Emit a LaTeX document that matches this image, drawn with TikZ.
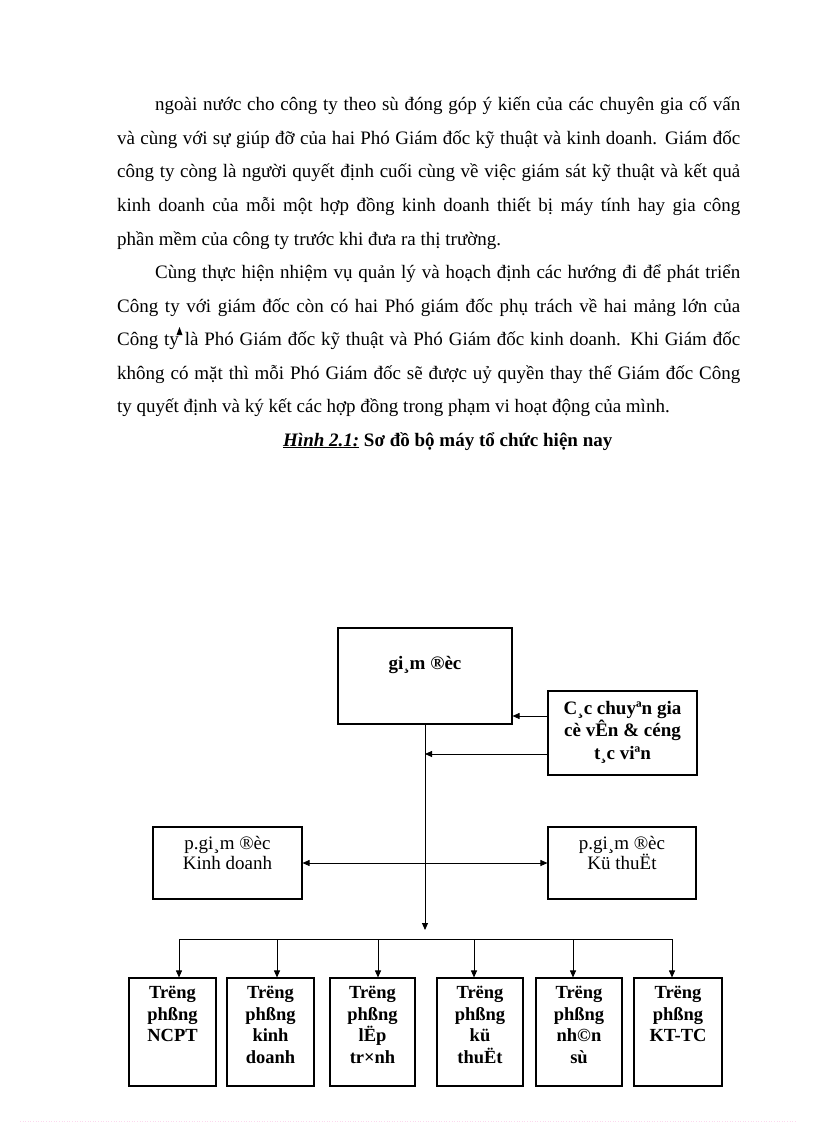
\documentclass[tikz,border=0pt]{standalone}
\usepackage{fontspec}
\setmainfont{Liberation Serif}
\usetikzlibrary{arrows.meta}
\begin{document}
\begin{tikzpicture}[x=1pt,y=-1pt,
  box/.style={draw=black, line width=1.1pt, inner sep=0pt},
  body/.style={anchor=base west, inner sep=0pt, font=\fontsize{19}{23}\selectfont},
  btxt/.style={inner sep=0pt, align=center, font=\fontsize{19}{22.5}\bfseries\selectfont},
  rtxt/.style={inner sep=0pt, align=center, font=\fontsize{19}{20.5}\selectfont},
  ptxt/.style={inner sep=0pt, align=center, font=\fontsize{18.5}{21.6}\bfseries\selectfont},
  conn/.style={draw=black, line width=0.9pt},
  arr/.style={conn, -{Triangle[length=7pt,width=6pt]}},
  darr/.style={conn, {Triangle[length=7pt,width=6pt]}-{Triangle[length=7pt,width=6pt]}}
]
\fill[white] (0,0) rectangle (816,1123);
\useasboundingbox (0,0) rectangle (816,1123);

% ---------- body text ----------
\node[body] (l1) at (155,111) {\makebox[585pt][s]{ngoài nước cho công ty theo sù đóng góp ý kiến của các chuyên gia cố vấn}};
\node[body] (l2) at (117,144.5) {\makebox[623pt][s]{và cùng với sự giúp đỡ của hai Phó Giám đốc kỹ thuật và kinh doanh. Giám đốc}};
\node[body] (l3) at (117,178) {\makebox[623pt][s]{công ty còng là người quyết định cuối cùng về việc giám sát kỹ thuật và kết quả}};
\node[body] (l4) at (117,211.5) {\makebox[623pt][s]{kinh doanh của mỗi một hợp đồng kinh doanh thiết bị máy tính hay gia công}};
\node[body] (l5) at (117,245) {phần mềm của công ty trước khi đưa ra thị trường.};
\node[body] (l6) at (155,278.5) {\makebox[585pt][s]{Cùng thực hiện nhiệm vụ quản lý và hoạch định các hướng đi để phát triển}};
\node[body] (l7) at (117,312) {\makebox[623pt][s]{Công ty với giám đốc còn có hai Phó giám đốc phụ trách về hai mảng lớn của}};
\node[body] (l8) at (117,345.5) {\makebox[623pt][s]{Công ty là Phó Giám đốc kỹ thuật và Phó Giám đốc kinh doanh. Khi Giám đốc}};
\node[body] (l9) at (117,379) {\makebox[623pt][s]{không có mặt thì mỗi Phó Giám đốc sẽ được uỷ quyền thay thế Giám đốc Công}};
\node[body] (l10) at (117,412.5) {ty quyết định và ký kết các hợp đồng trong phạm vi hoạt động của mình.};
\node[body, font=\fontsize{19}{23}\bfseries\selectfont] (cap) at (283,446) {\underline{\textit{Hình 2.1:}} Sơ đồ bộ máy tổ chức hiện nay};
% anchor mark
\fill[black] (176.5,335) -- (179.5,327) -- (182.5,335) -- cycle;

% ---------- diagram ----------
\node[box, minimum width=174, minimum height=96] (dir) at (425,676) {};
\node[btxt, anchor=base] (dirt) at (425,669) {gi¸m ®èc};

\node[box, minimum width=149, minimum height=84] (adv) at (622.5,733) {};
\node[btxt, anchor=north] (advt) at (622.5,701) {C¸c chuyªn gia\\cè vÊn \& céng\\t¸c viªn};

\coordinate (j1) at (425,754);
\coordinate (vend) at (425,930);
\draw[arr] (dir.south) -- (vend);
\draw[arr] (adv.west |- 0,716) -- (dir.east |- 0,716);
\draw[arr] (adv.west |- j1) -- (j1);

\node[box, minimum width=149, minimum height=72] (kd) at (227.5,863) {};
\node[rtxt, anchor=north] (kdt) at (227.5,836) {p.gi¸m ®èc\\Kinh doanh};
\node[box, minimum width=148, minimum height=72] (kt) at (622,863) {};
\node[rtxt, anchor=north] (ktt) at (622,836) {p.gi¸m ®èc\\Kü thuËt};
\draw[darr] (kd.east) -- (kt.west);

% bottom row
\node[box, minimum width=87, minimum height=108] (t1) at (172.5,1032) {};
\node[box, minimum width=87, minimum height=108] (t2) at (270.5,1032) {};
\node[box, minimum width=85, minimum height=108] (t3) at (372.5,1032) {};
\node[box, minimum width=86, minimum height=108] (t4) at (480,1032) {};
\node[box, minimum width=86, minimum height=108] (t5) at (579,1032) {};
\node[box, minimum width=88, minimum height=108] (t6) at (678,1032) {};
\node[ptxt, anchor=north] (t1t) at (172.5,986) {Trëng\\phßng\\NCPT};
\node[ptxt, anchor=north] (t2t) at (270.5,986) {Trëng\\phßng\\kinh\\doanh};
\node[ptxt, anchor=north] (t3t) at (372.5,986) {Trëng\\phßng\\lËp\\tr×nh};
\node[ptxt, anchor=north] (t4t) at (480,986) {Trëng\\phßng\\kü\\thuËt};
\node[ptxt, anchor=north] (t5t) at (579,986) {Trëng\\phßng\\nh©n\\sù};
\node[ptxt, anchor=north] (t6t) at (678,986) {Trëng\\phßng\\KT-TC};

\coordinate (b1) at (179,939);
\coordinate (b2) at (277,939);
\coordinate (b3) at (378,939);
\coordinate (b4) at (474,939);
\coordinate (b5) at (573,939);
\coordinate (b6) at (672,939);
\draw[conn] (b1) -- (b6);
\draw[arr] (b1) -- (b1 |- t1.north);
\draw[arr] (b2) -- (b2 |- t2.north);
\draw[arr] (b3) -- (b3 |- t3.north);
\draw[arr] (b4) -- (b4 |- t4.north);
\draw[arr] (b5) -- (b5 |- t5.north);
\draw[arr] (b6) -- (b6 |- t6.north);

% faint page-edge dotted line
\draw[magenta!15, dotted, line width=0.6pt] (20,1121) -- (796,1121);
\end{tikzpicture}
\end{document}
